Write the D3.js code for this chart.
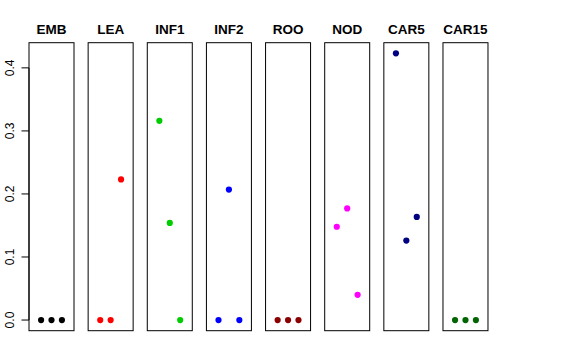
<!DOCTYPE html>
<html><head><meta charset="utf-8">
<script src="https://cdn.jsdelivr.net/npm/d3@7"></script>
<style>body{margin:0;background:#fff}svg{display:block}</style>
</head><body>
<svg id="c" width="576" height="360"></svg>
<script>
const categories = ["EMB","LEA","INF1","INF2","ROO","NOD","CAR5","CAR15"];
const colors = ["#000000","#FF0000","#00CD00","#0000FF","#8B0000","#FF00FF","#000080","#006400"];
const values = [
  [0, 0, 0],
  [0, 0, 0.223],
  [0.316, 0.154, 0],
  [0, 0.207, 0],
  [0, 0, 0],
  [0.148, 0.177, 0.040],
  [0.423, 0.126, 0.1635],
  [0, 0, 0]
];
const yTicks = [0, 0.1, 0.2, 0.3, 0.4];

const svg = d3.select("#c");
const yMax = d3.max(values.flat());
const pad = 0.04 * yMax;
const y = d3.scaleLinear().domain([-pad, yMax + pad]).range([330.7, 42.7]);
const bw = 45, step = 59.14;
const panelX = d3.scaleLinear().domain([0, categories.length - 1]).range([29, 29 + step * (categories.length - 1)]);
const x = d3.scaleLinear().domain([-0.16, 4.16]).range([0, bw]);

categories.forEach((cat, i) => {
  const g = svg.append("g").attr("transform", `translate(${panelX(i)},0)`);
  g.append("rect").attr("x", 0).attr("y", y.range()[1]).attr("width", bw)
    .attr("height", y.range()[0] - y.range()[1])
    .attr("fill", "none").attr("stroke", "#000").attr("stroke-width", 1);
  g.selectAll("circle").data(values[i]).join("circle")
    .attr("cx", (d, j) => x(j + 1)).attr("cy", d => y(d)).attr("r", 3.1)
    .attr("fill", colors[i]);
  g.append("text").attr("x", bw / 2).attr("y", 34).attr("text-anchor", "middle")
    .attr("font-family", "Liberation Sans, Arial, sans-serif").attr("font-weight", "bold")
    .attr("font-size", 13.5).text(cat);
});

const ax = svg.append("g").attr("transform", `translate(29,0)`);
ax.append("line").attr("x1", 0).attr("x2", 0).attr("y1", y(0)).attr("y2", y(0.4)).attr("stroke", "#000");
yTicks.forEach(t => {
  ax.append("line").attr("x1", -7.5).attr("x2", 0).attr("y1", y(t)).attr("y2", y(t)).attr("stroke", "#000");
  ax.append("text").attr("transform", `translate(-15.5,${y(t)}) rotate(-90)`)
    .attr("text-anchor", "middle").attr("font-family", "Liberation Sans, Arial, sans-serif")
    .attr("font-size", 12).text(t.toFixed(1));
});
</script>
</body></html>
